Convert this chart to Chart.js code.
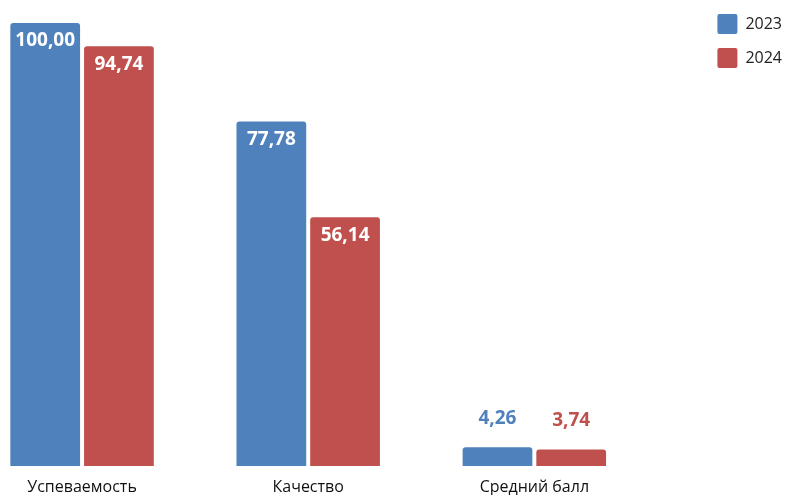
<!DOCTYPE html>
<html>
<head>
<meta charset="utf-8">
<script src="https://cdn.jsdelivr.net/npm/chart.js@4.4.1/dist/chart.umd.min.js"></script>
<style>
  html, body { margin: 0; padding: 0; background: #fff; overflow: hidden; }
  #wrap { position: absolute; left: -31px; top: 0; width: 823px; height: 495px; }
</style>
</head>
<body>
<div id="wrap"><canvas id="chart"></canvas></div>
<script>
const categories = ['Успеваемость', 'Качество', 'Средний балл'];
const series2023 = [100.00, 77.78, 4.26];
const series2024 = [94.74, 56.14, 3.74];
const seriesNames = ['2023', '2024'];

const BLUE = '#4F81BD';
const RED = '#C0504D';
const FONT = "'Open Sans', 'Noto Sans', sans-serif";

function fmt(v) {
  return v.toFixed(2).replace('.', ',');
}

// подписи значений: внутри столбца белым, у маленьких — над столбцом цветом серии
const valueLabels = {
  id: 'valueLabels',
  afterDatasetsDraw(chart) {
    const ctx = chart.ctx;
    ctx.save();
    ctx.font = `bold 19px ${FONT}`;
    ctx.textAlign = 'center';
    ctx.textBaseline = 'middle';
    chart.data.datasets.forEach((ds, i) => {
      const meta = chart.getDatasetMeta(i);
      meta.data.forEach((bar, j) => {
        const v = ds.data[j];
        if (v > 20) {
          ctx.fillStyle = '#fff';
          ctx.fillText(fmt(v), bar.x, bar.y + 18);
        } else {
          ctx.fillStyle = ds.backgroundColor;
          ctx.fillText(fmt(v), bar.x, bar.y - 29);
        }
      });
    });
    ctx.restore();
  }
};

const ctx = document.getElementById('chart').getContext('2d');
new Chart(ctx, {
  type: 'bar',
  data: {
    labels: categories,
    datasets: [
      { label: seriesNames[0], data: series2023, backgroundColor: BLUE, borderWidth: 0, borderRadius: 3 },
      { label: seriesNames[1], data: series2024, backgroundColor: RED, borderWidth: 0, borderRadius: 3 }
    ]
  },
  options: {
    responsive: true,
    maintainAspectRatio: false,
    animation: false,
    layout: { padding: 0 },
    datasets: {
      bar: { categoryPercentage: 0.652, barPercentage: 0.946 }
    },
    plugins: {
      tooltip: { enabled: false },
      legend: {
        position: 'right',
        align: 'start',
        labels: {
          boxWidth: 20,
          boxHeight: 20,
          padding: 14,
          color: '#222',
          useBorderRadius: true,
          borderRadius: 2,
          font: { family: FONT, size: 16 }
        }
      }
    },
    scales: {
      x: {
        grid: { display: false, drawTicks: false },
        border: { display: false },
        ticks: { color: '#111', padding: 12, font: { family: FONT, size: 16 } },
        afterFit: (s) => { s.height = 29; }
      },
      y: {
        position: 'right',
        min: 0,
        max: 105.2,
        grid: { display: false },
        border: { display: false },
        ticks: { display: false },
        afterFit: (s) => { s.width = 56; }
      }
    }
  },
  plugins: [valueLabels]
});
</script>
</body>
</html>
